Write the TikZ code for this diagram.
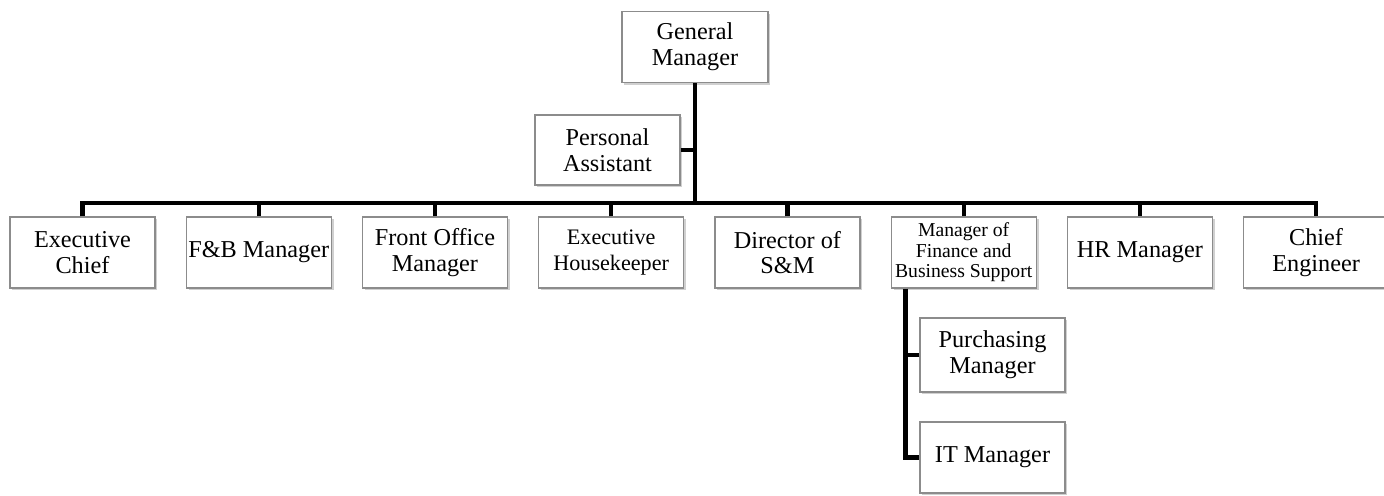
\documentclass[tikz,border=0pt]{standalone}
\usepackage{fontspec}
\setmainfont{Liberation Serif}
\usepackage{tikz}
\usetikzlibrary{positioning, calc, shadows}
\definecolor{boxedge}{RGB}{140, 140, 140}
\definecolor{shadowgray}{RGB}{150, 150, 150}
\tikzset{
    orgbox/.style={draw=boxedge, line width=0.7pt, fill=white, rectangle, minimum width=2.9cm, minimum height=1.42cm,
        inner xsep=1pt, align=center, font=\fontsize{13.8}{14.6}\selectfont,
        drop shadow={shadow xshift=1.4pt, shadow yshift=-1.4pt, fill=shadowgray, opacity=0.45}},
    smallbox/.style={orgbox, font=\fontsize{11.2}{11.6}\selectfont},
    orgline/.style={line width=2.4pt, draw=black},
}

\begin{document}
\begin{tikzpicture}[node distance=0.6cm]
    \useasboundingbox (0,0) rectangle (27.68,-9.9);

    % top of the chart
    \node[orgbox, minimum width=2.92cm] (gm) at (13.9,-0.94) {General\\Manager};
    \node[orgbox, minimum height=1.4cm] (pa) at (12.15,-3.0) {Personal\\Assistant};

    % department heads
    \node[orgbox] (ec) at (1.65,-5.05) {Executive\\Chief};
    \node[orgbox, right=of ec] (fb) {F\&B Manager};
    \node[orgbox, right=of fb] (fo) {Front Office\\Manager};
    \node[orgbox, right=of fo, font=\fontsize{12.6}{14.6}\selectfont] (eh) {Executive\\Housekeeper};
    \node[orgbox, right=of eh] (ds) {Director of\\S\&M};
    \node[smallbox, right=of ds] (mf) {Manager of\\Finance and\\Business Support};
    \node[orgbox, right=of mf] (hr) {HR Manager};
    \node[orgbox, right=of hr] (ce) {Chief\\Engineer};

    % under finance
    \node[orgbox, minimum height=1.48cm] (pm) at (19.85,-7.1) {Purchasing\\Manager};
    \node[orgbox] (it) at (19.85,-9.15) {IT Manager};

    % connectors
    \coordinate (bus) at (13.9,-4.06);
    \draw[orgline] (gm.south) -- (bus);
    \draw[orgline] (pa.east) -- (pa.east -| gm.south);
    \draw[orgline] (ec.north) -- (ec.north |- bus) -- (ce.north |- bus) -- (ce.north);
    \foreach \n in {fb, fo, eh, ds, mf, hr}
        \draw[orgline] (\n.north) -- (\n.north |- bus);

    \coordinate (subtop) at ([xshift=0.3cm]mf.south west);
    \draw[orgline] (subtop) |- (it.west);
    \draw[orgline] (pm.west) -- (pm.west -| subtop);
\end{tikzpicture}
\end{document}
